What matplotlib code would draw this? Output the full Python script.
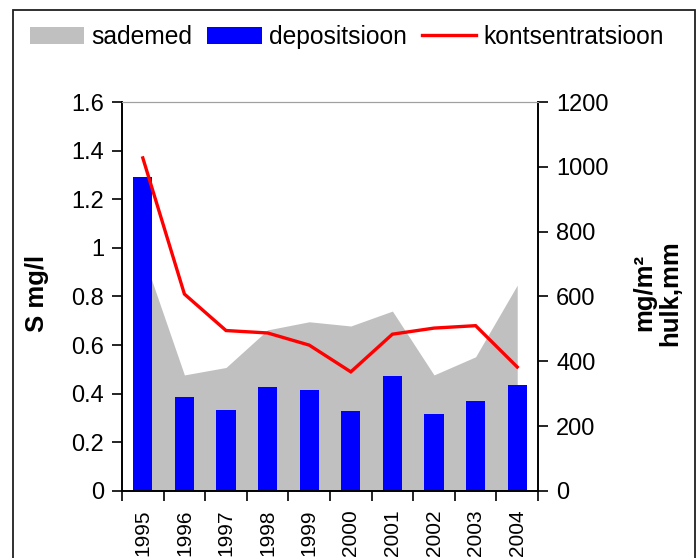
import numpy as np
import matplotlib
matplotlib.use('Agg')
import matplotlib.pyplot as plt
from matplotlib.patches import Patch, Rectangle
from matplotlib.lines import Line2D

plt.rcParams['font.family'] = ['Liberation Sans', 'DejaVu Sans']

years = ['1995', '1996', '1997', '1998', '1999', '2000', '2001', '2002', '2003', '2004']
# sademed (hulk, mm) - right axis
precip_mm = [730, 358, 381, 497, 522, 509, 555, 358, 414, 635]
# depositsioon (mg/m2) - right axis
deposition = [969, 290, 250, 321, 312, 247, 355, 238, 278, 327]
# kontsentratsioon (S mg/l) - left axis
concentration = [1.37, 0.81, 0.66, 0.65, 0.60, 0.49, 0.645, 0.67, 0.68, 0.51]

fig = plt.figure(figsize=(6.98, 5.58), dpi=100)
ax = fig.add_axes([0.1748, 0.1201, 0.596, 0.6971])
ax2 = ax.twinx()

x = np.arange(len(years))

# area + bars on the right axis, line on the left axis drawn on top
ax2.fill_between(x, precip_mm, 0, color='#c0c0c0', linewidth=0, zorder=1)
ax2.bar(x, deposition, width=0.46, color='#0000ff', zorder=2)
ax.plot(x, concentration, color='#ff0000', linewidth=2.4, solid_joinstyle='miter', zorder=3)
ax.set_zorder(ax2.get_zorder() + 1)
ax.patch.set_visible(False)

ax.set_xlim(-0.5, len(years) - 0.5)
ax.set_ylim(0, 1.6)
ax2.set_ylim(0, 1200)
ax.set_yticks(np.arange(0, 1.61, 0.2))
ax.set_yticklabels(['0', '0.2', '0.4', '0.6', '0.8', '1', '1.2', '1.4', '1.6'])
ax2.set_yticks(np.arange(0, 1201, 200))

# ticks at category boundaries, labels at centers
ax.set_xticks(np.arange(-0.5, len(years), 1.0))
ax.set_xticklabels([])
ax.set_xticks(x, minor=True)
ax.set_xticklabels(years, minor=True, rotation=90)
ax.tick_params(axis='x', which='minor', length=0, pad=13.5, labelsize=15)
ax.tick_params(axis='x', which='major', length=7, width=1.2, direction='out')
ax.tick_params(axis='y', length=7, width=1.2, labelsize=17, pad=6)
ax2.tick_params(axis='y', length=7, width=1.2, labelsize=17, pad=6)

for a in (ax, ax2):
    a.spines['top'].set_color('#a0a0a0')
    a.spines['left'].set_linewidth(1.2)
    a.spines['right'].set_linewidth(1.2)
    a.spines['bottom'].set_linewidth(1.2)

fig.text(0.053, 0.474, 'S mg/l', rotation=90, ha='center', va='center',
         fontsize=18.5, fontweight='bold')
fig.text(0.941, 0.475, 'mg/m²\nhulk,mm', rotation=90, ha='center', va='center',
         fontsize=18.5, fontweight='bold', linespacing=1.1)

handles = [Patch(facecolor='#c0c0c0', edgecolor='none'),
           Patch(facecolor='#0000ff', edgecolor='none'),
           Line2D([0], [0], color='#ff0000', linewidth=2.4)]
fig.legend(handles, ['sademed', 'depositsioon', 'kontsentratsioon'],
           loc='center', bbox_to_anchor=(0.497, 0.934), ncol=3, frameon=False,
           fontsize=17.7, handlelength=2.2, handleheight=0.7, handletextpad=0.3,
           columnspacing=0.6)

# outer chart border
fig.patches.append(Rectangle((0.0186, -0.05), 0.977, 1.032, transform=fig.transFigure,
                             fill=False, edgecolor='#202020', linewidth=1.3))

fig.savefig('out.png', dpi=100)
